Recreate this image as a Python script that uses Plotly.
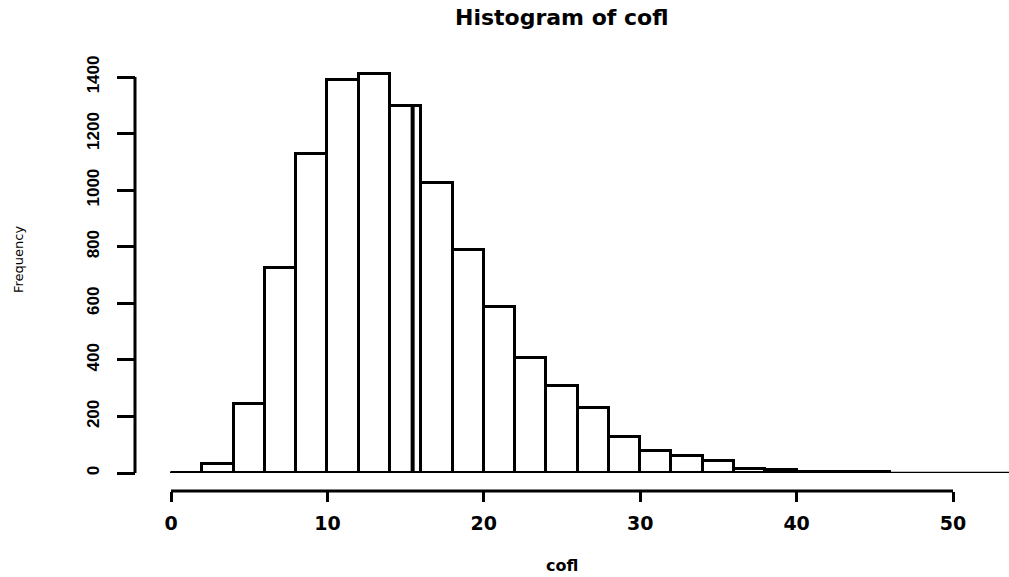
import plotly.graph_objects as go

# ---- data ----
bin_edges = list(range(0, 48, 2))  # 0,2,...,46
counts = [0, 32, 243, 726, 1128, 1389, 1409, 1297, 1026, 788, 587, 408,
          307, 229, 127, 78, 60, 43, 15, 9, 4, 3, 2]
x_ticks = [0, 10, 20, 30, 40, 50]
y_ticks = [0, 200, 400, 600, 800, 1000, 1200, 1400]
marker_x = 15.45          # thick vertical stroke inside the 14-16 bin
marker_bin = 7            # index of the bin it sits in

title_text = "Histogram of cofl"
x_label = "cofl"
y_label = "Frequency"

# ---- geometry ----
W, H = 1009, 577
px_x0, px_x50 = 171.0, 953.0          # pixel of x=0 and x=50
ppu_x = (px_x50 - px_x0) / 50.0
x_range = [-px_x0 / ppu_x, (W - px_x0) / ppu_x]

px_y0, px_y1400 = 473.0, 77.0
ppu_y = (px_y0 - px_y1400) / 1400.0
y_dom_bottom = (H - px_y0) / H
y_range = [0, px_y0 / ppu_y]

x_axis_pos = (H - 491.0) / H
y_axis_pos = 135.0 / W

centers = [(bin_edges[i] + bin_edges[i + 1]) / 2 for i in range(len(counts))]
widths = [bin_edges[i + 1] - bin_edges[i] for i in range(len(counts))]

fig = go.Figure()
fig.add_trace(go.Bar(
    x=centers, y=counts, width=widths,
    marker=dict(color="white", line=dict(color="black", width=3)),
    hoverinfo="x+y", showlegend=False,
))
fig.add_trace(go.Scatter(
    x=[marker_x, marker_x], y=[0, counts[marker_bin]],
    mode="lines", line=dict(color="black", width=4),
    showlegend=False, hoverinfo="skip",
))

tick_font_x = dict(family="DejaVu Sans", size=19, color="black", weight="bold")
tick_font_y = dict(family="Liberation Sans", size=17, color="black", weight="bold")

fig.update_layout(
    width=W, height=H,
    margin=dict(l=0, r=0, t=0, b=0, pad=0),
    paper_bgcolor="white", plot_bgcolor="white",
    bargap=0,
    xaxis=dict(
        domain=[0, 1], range=x_range, anchor="free", position=x_axis_pos,
        tickmode="array", tickvals=x_ticks, ticktext=[str(v) for v in x_ticks],
        ticks="outside", ticklen=10, tickwidth=3, tickcolor="black",
        showline=False, showgrid=False, zeroline=False,
        tickfont=tick_font_x, ticklabelstandoff=5, automargin=False,
    ),
    yaxis=dict(
        domain=[y_dom_bottom, 1], range=y_range, anchor="free", position=y_axis_pos,
        tickmode="array", tickvals=y_ticks, ticktext=[str(v) for v in y_ticks],
        ticks="outside", ticklen=18, tickwidth=3, tickcolor="black",
        showline=False, showgrid=False, zeroline=False,
        tickfont=tick_font_y, tickangle=-90, ticklabelstandoff=11, automargin=False,
    ),
    shapes=[
        # baseline under the bars
        dict(type="line", xref="paper", yref="y", x0=170.0 / W, x1=1.0, y0=0, y1=0,
             line=dict(color="black", width=2.5)),
        # x axis line (0..50)
        dict(type="line", xref="x", yref="paper", x0=x_ticks[0], x1=x_ticks[-1],
             y0=x_axis_pos, y1=x_axis_pos, line=dict(color="black", width=3)),
        # y axis line (0..1400)
        dict(type="line", xref="paper", yref="y", x0=y_axis_pos, x1=y_axis_pos,
             y0=y_ticks[0], y1=y_ticks[-1], line=dict(color="black", width=3)),
    ],
    annotations=[
        dict(text="<b>" + title_text + "</b>", xref="paper", yref="paper",
             x=562.0 / W, y=1 - 18.0 / H, xanchor="center", yanchor="middle",
             showarrow=False, font=dict(family="DejaVu Sans", size=22, color="black")),
        dict(text="<b>" + x_label + "</b>", xref="paper", yref="paper",
             x=562.0 / W, y=1 - 565.0 / H, xanchor="center", yanchor="middle",
             showarrow=False, font=dict(family="DejaVu Sans", size=16, color="black")),
        dict(text=y_label, xref="paper", yref="paper",
             x=18.0 / W, y=1 - 260.0 / H, xanchor="center", yanchor="middle",
             textangle=-90, showarrow=False,
             font=dict(family="DejaVu Sans", size=13, color="black")),
    ],
)

fig.write_html("out.html")
